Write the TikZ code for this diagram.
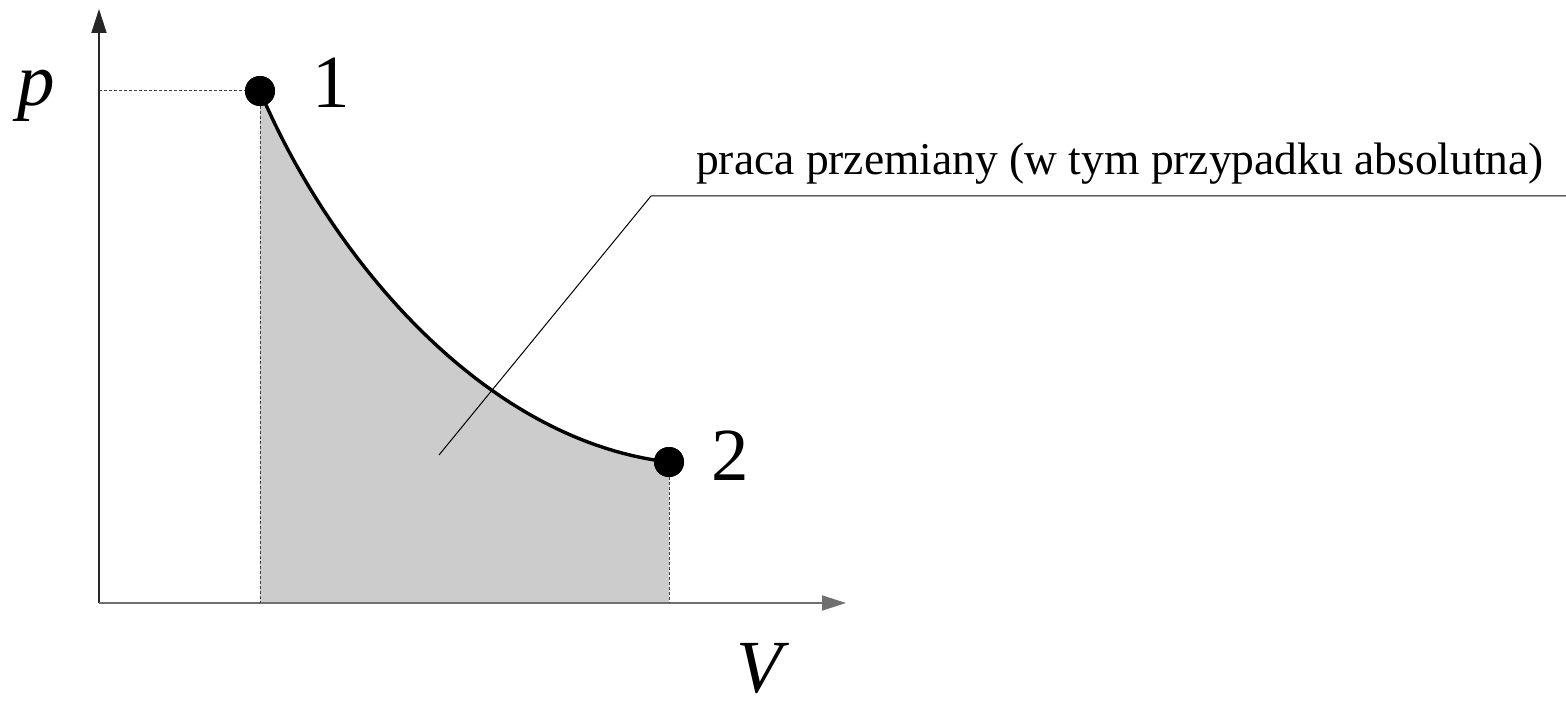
\documentclass[tikz,border=0pt]{standalone}
\usepackage{fontspec}
\setmainfont{Liberation Serif}
\usetikzlibrary{positioning,arrows.meta}
\definecolor{txt}{HTML}{000000}
\definecolor{axY}{HTML}{262626}
\definecolor{axX}{HTML}{707070}
\definecolor{dsh}{HTML}{404040}
\definecolor{wrkF}{HTML}{CCCCCC}

\begin{document}
\begin{tikzpicture}[
  x=1pt,y=-1pt,text=txt,
  >={Triangle[length=24pt,width=15pt]},
  axis/.style={line width=1.8pt,->},
  guide/.style={dsh,line width=1pt,dash pattern=on 3pt off 2pt},
  state/.style={circle,fill=black,inner sep=0pt,minimum size=30pt},
  big/.style={inner sep=0pt,font=\fontsize{75}{80}\selectfont},
  note/.style={inner sep=0pt,font=\fontsize{45.5}{50}\selectfont},
  ]
\useasboundingbox (0,0) rectangle (1566,703);

% ================= work area under the curve =================
\coordinate (o) at (99,603);
\coordinate (v1) at (260,603);
\coordinate (v2) at (669,603);
\fill[wrkF] (v1) -- (260,91) .. controls (328,252) and (480,440) .. (669,462) -- (v2) -- cycle;

% ================= axes =================
\coordinate (ytip) at (99,9);
\coordinate (xtip) at (846,603);
\draw[axis,axY] (o) -- (ytip);
\draw[axis,axX] (o) -- (xtip);
\node[big,anchor=base] (pl) at (36,106) {\textit{p}};
\node[big,anchor=base] (vl) at (763,692) {\textit{V}};

% ================= states 1 and 2 =================
\node[state] (pt1) at (260,91) {};
\node[state] (pt2) at (669,462) {};
\draw[guide] (pt1.center -| o) -- (pt1.center);
\draw[guide] (pt1.center) -- (v1);
\draw[guide] (pt2.center) -- (v2);
\draw[line width=3.4pt] (pt1.center) .. controls (328,252) and (480,440) .. (pt2.center);
\node[state] at (pt1) {};
\node[state] at (pt2) {};
\node[big,anchor=base west] (n1) at ([xshift=52pt,yshift=-17pt]pt1.center) {1};
\node[big,anchor=base west] (n2) at ([xshift=42pt,yshift=-18pt]pt2.center) {2};

% ================= leader with note =================
\coordinate (lfoot) at (439,455);
\coordinate (lknee) at (651,196);
\coordinate (lend) at (1566,196);
\draw[line width=1pt] (lfoot) -- (lknee) -- (lend);
\node[note,anchor=base west] (wl) at (696,175) {praca przemiany (w tym przypadku absolutna)};

\end{tikzpicture}
\end{document}
